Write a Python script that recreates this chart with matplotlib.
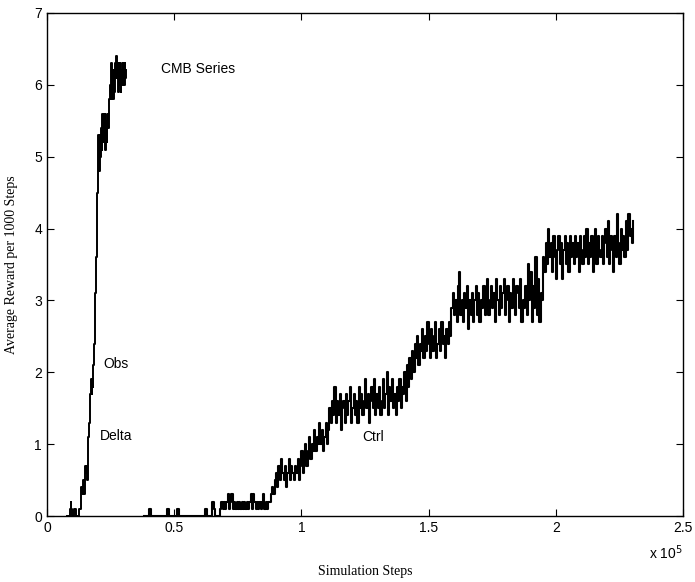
import matplotlib
matplotlib.use("Agg")
import matplotlib.pyplot as plt
import numpy as np

# ---- data ----
cmb_start, cmb_step = 8000, 250
cmb_values = [
    0, 0, 0, 0, 0.1, 0.2, 0.1, 0.1, 0, 0,
    0.1, 0.1, 0.1, 0, 0, 0, 0, 0, 0, 0.1,
    0.1, 0.2, 0.4, 0.3, 0.4, 0.5, 0.3, 0.6, 0.7, 0.6,
    0.7, 0.5, 0.9, 1.1, 1.3, 1.5, 1.7, 1.9, 1.7, 1.9,
    1.8, 2.1, 2.4, 2.8, 3.1, 3.6, 4.0, 4.5, 4.9, 5.3,
    4.8, 5.3, 5.0, 5.4, 5.1, 5.6, 5.2, 5.6, 5.3, 5.6,
    5.1, 5.5, 5.2, 5.6, 5.4, 5.8, 5.8, 6.0, 5.8, 6.3,
    5.8, 6.2, 5.8, 6.2, 5.9, 6.3, 6.1, 6.4, 6.1, 6.3,
    5.9, 6.3, 6.0, 6.3, 5.9, 6.2, 6.0, 6.3, 6.2, 6.0,
    6.3, 6.1, 6.2,
]

ctrl_start, ctrl_step = 38000, 500
ctrl_values = [
    0, 0, 0, 0, 0.1, 0.1, 0, 0, 0, 0, 0, 0, 0, 0, 0, 0, 0, 0, 0.1, 0.1,
    0, 0, 0, 0, 0, 0, 0.1, 0.1, 0, 0, 0, 0, 0, 0, 0, 0, 0, 0, 0, 0,
    0, 0, 0, 0, 0, 0, 0, 0, 0.1, 0.1, 0, 0, 0, 0, 0.2, 0.1, 0, 0, 0, 0,
    0.1, 0.2, 0.1, 0.2, 0.1, 0.2, 0.3, 0.1, 0.2, 0.3, 0.1, 0.2, 0.1, 0.2, 0.1, 0.2, 0.1, 0.2, 0.1, 0.2,
    0.1, 0.2, 0.1, 0.2, 0.3, 0.1, 0.3, 0.2, 0.1, 0.2, 0.1, 0.2, 0.1, 0.2, 0.3, 0.1, 0.2, 0.1, 0.2, 0.2,
    0.3, 0.4, 0.3, 0.5, 0.6, 0.4, 0.7, 0.5, 0.8, 0.6, 0.5, 0.7, 0.4, 0.6, 0.8, 0.5, 0.7, 0.6, 0.5, 0.7,
    0.6, 0.8, 0.5, 0.7, 0.9, 0.6, 0.8, 1.0, 0.7, 0.9, 1.1, 0.8, 1.0, 0.9, 1.2, 0.9, 1.1, 1.0, 1.3, 1.0,
    1.2, 0.9, 1.1, 1.3, 1.0, 1.2, 1.5, 1.3, 1.6, 1.4, 1.8, 1.3, 1.6, 1.4, 1.7, 1.2, 1.5, 1.6, 1.3, 1.7,
    1.4, 1.6, 1.8, 1.3, 1.5, 1.7, 1.4, 1.6, 1.3, 1.8, 1.5, 1.7, 1.4, 1.6, 1.9, 1.5, 1.7, 1.3, 1.6, 1.8,
    1.5, 1.9, 1.4, 1.7, 1.5, 1.8, 1.4, 1.6, 1.9, 1.5, 1.7, 2.0, 1.4, 1.8, 1.6, 1.9, 1.5, 1.7, 1.4, 1.8,
    1.6, 1.9, 1.5, 1.8, 1.7, 2.0, 1.6, 2.1, 1.8, 2.2, 1.9, 2.3, 2.0, 2.4, 2.2, 2.5, 2.1, 2.4, 2.3, 2.6,
    2.2, 2.5, 2.3, 2.7, 2.4, 2.2, 2.6, 2.3, 2.5, 2.7, 2.2, 2.4, 2.6, 2.3, 2.7, 2.4, 2.5, 2.2, 2.6, 2.4,
    2.7, 2.5, 2.9, 3.1, 2.8, 3.0, 2.7, 3.2, 3.4, 2.8, 3.0, 2.7, 3.1, 2.9, 3.2, 2.6, 3.0, 2.8, 3.1, 2.7,
    3.0, 3.2, 2.8, 3.1, 2.7, 3.0, 2.9, 3.2, 2.8, 3.1, 3.3, 2.8, 3.0, 3.2, 2.9, 3.1, 2.7, 3.3, 3.0, 2.8,
    3.2, 2.9, 3.1, 3.3, 2.8, 3.0, 3.2, 2.7, 3.1, 2.9, 3.3, 3.0, 2.8, 3.2, 3.1, 2.9, 3.3, 2.7, 3.0, 2.9,
    3.2, 2.8, 3.5, 3.0, 3.4, 2.7, 3.2, 2.9, 3.6, 2.8, 3.3, 2.7, 3.1, 3.0, 3.6, 3.4, 3.8, 3.5, 4.0, 3.6,
    3.8, 3.4, 3.9, 3.6, 3.3, 3.7, 3.9, 3.5, 3.8, 3.3, 3.7, 3.9, 3.5, 3.8, 3.4, 3.9, 3.6, 3.8, 3.5, 3.9,
    3.6, 3.8, 3.4, 3.9, 3.7, 3.5, 3.9, 3.6, 4.0, 3.5, 3.8, 3.6, 3.9, 3.4, 3.8, 4.0, 3.5, 3.9, 3.7, 3.6,
    3.9, 3.5, 3.8, 4.0, 3.6, 4.1, 3.5, 3.9, 3.7, 3.4, 3.9, 3.6, 4.2, 3.8, 3.5, 4.0, 3.7, 3.9, 3.6, 4.1,
    3.7, 4.2, 3.9, 4.0, 3.8, 4.1,
]

xtick_pos = [0, 50000, 100000, 150000, 200000, 250000]
xtick_labels = ["0", "0.5", "1", "1.5", "2", "2.5"]
ytick_pos = [0, 1, 2, 3, 4, 5, 6, 7]

labels = [("CMB Series", 45000, 6.22),
          ("Obs", 22300, 2.12),
          ("Delta", 20800, 1.12),
          ("Ctrl", 124000, 1.1)]

# ---- figure ----
fig = plt.figure(figsize=(6.95, 5.82), dpi=100)
ax = fig.add_axes([0.0676, 0.1134, 0.9151, 0.8643])

cmb_x = cmb_start + cmb_step * np.arange(len(cmb_values))
ctrl_x = ctrl_start + ctrl_step * np.arange(len(ctrl_values))

ax.plot(ctrl_x, ctrl_values, color="black", lw=1.5, drawstyle="steps-post")
ax.plot(cmb_x, cmb_values, color="black", lw=1.4, drawstyle="steps-post")

ax.set_xlim(0, 250000)
ax.set_ylim(0, 7)
ax.set_xticks(xtick_pos)
ax.set_xticklabels(xtick_labels)
ax.set_yticks(ytick_pos)

sans = ["Liberation Sans", "DejaVu Sans"]
serif = ["Liberation Serif", "DejaVu Serif"]
ax.tick_params(direction="in", top=True, right=True, length=5, width=0.8,
               labelsize=10)
for lab in ax.get_xticklabels() + ax.get_yticklabels():
    lab.set_fontfamily(sans)
for s in ax.spines.values():
    s.set_linewidth(1.0)

ax.set_xlabel("Simulation Steps", fontfamily=serif, fontsize=10, labelpad=22)
ax.set_ylabel("Average Reward per 1000 Steps", fontfamily=serif, fontsize=10,
              labelpad=12)
ax.text(1.0, -0.055, r"x 10$^{5}$", transform=ax.transAxes, ha="right",
        va="top", fontsize=10, fontfamily=sans)

for txt, x, y in labels:
    ax.text(x, y, txt, fontsize=10, fontfamily=sans, ha="left", va="center")

fig.savefig("out.png", dpi=100)
